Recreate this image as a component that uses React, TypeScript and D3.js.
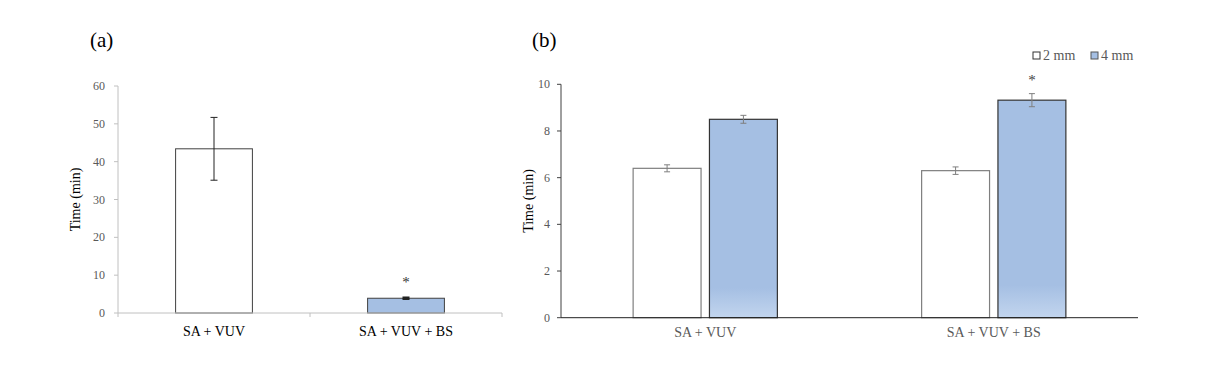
import React from "react";
import * as d3 from "d3";

// panel (a)
const catsA = ["SA + VUV", "SA + VUV + BS"];
const timeA = [43.4, 3.9];
const errA = [8.3, 0.2];
const sigA = [false, true];
const ticksA = [0, 10, 20, 30, 40, 50, 60];

// panel (b)
const catsB = ["SA + VUV", "SA + VUV + BS"];
const seriesB = ["2 mm", "4 mm"];
const time2mm = [6.4, 6.3];
const time4mm = [8.5, 9.32];
const err2mm = [0.15, 0.16];
const err4mm = [0.17, 0.28];
const sig4mm = [false, true];
const ticksB = [0, 2, 4, 6, 8, 10];

const W = 1222;
const H = 369;
const FONT = "Liberation Serif, DejaVu Serif, serif";
const BLUE = "#a5bfe3";
const TICK_COL = "#595959";

function PanelA() {
  const left = 118, right = 502, top = 86, bottom = 313;
  const x = d3.scaleBand().domain(catsA).range([left, right]);
  const y = d3.scaleLinear().domain([0, 60]).range([bottom, top]);
  const bw = x.bandwidth();
  const barW = bw * 0.4;

  return (
    <g>
      <text x={90} y={47} fontSize={21}>(a)</text>
      {/* y axis */}
      <line x1={left} x2={left} y1={top} y2={bottom} stroke="#c0c0c0" />
      {ticksA.map((t) => (
        <g key={t}>
          <line x1={left - 4} x2={left} y1={y(t)} y2={y(t)} stroke="#c0c0c0" />
          <text x={left - 13} y={y(t) + 4} textAnchor="end" fontSize={12} fill={TICK_COL}>
            {t}
          </text>
        </g>
      ))}
      <text
        transform={`translate(80,${(top + bottom) / 2}) rotate(-90)`}
        textAnchor="middle"
        fontSize={14}
      >
        Time (min)
      </text>
      {/* bars */}
      {catsA.map((c, i) => {
        const cx = (x(c) as number) + bw / 2;
        return (
          <g key={c}>
            <rect
              x={cx - barW / 2}
              y={y(timeA[i])}
              width={barW}
              height={y(0) - y(timeA[i])}
              fill={i === 0 ? "#ffffff" : BLUE}
              stroke="#404040"
              strokeWidth={1}
            />
            <line x1={cx} x2={cx} y1={y(timeA[i] + errA[i])} y2={y(timeA[i] - errA[i])} stroke="#222" />
            <line x1={cx - 3.5} x2={cx + 3.5} y1={y(timeA[i] + errA[i])} y2={y(timeA[i] + errA[i])} stroke="#222" strokeWidth={i === 1 ? 2 : 1} />
            <line x1={cx - 3.5} x2={cx + 3.5} y1={y(timeA[i] - errA[i])} y2={y(timeA[i] - errA[i])} stroke="#222" strokeWidth={i === 1 ? 2 : 1} />
            {sigA[i] && (
              <text x={cx} y={y(timeA[i] + errA[i]) - 10} textAnchor="middle" fontSize={15} fill="#333">
                *
              </text>
            )}
            <text x={cx} y={336} textAnchor="middle" fontSize={14}>
              {c}
            </text>
          </g>
        );
      })}
      {/* x axis */}
      <line x1={left} x2={right} y1={bottom} y2={bottom} stroke="#c0c0c0" />
      {[...catsA.map((c) => x(c) as number), right].map((v, i) => (
        <line key={i} x1={v} x2={v} y1={bottom} y2={bottom + 4} stroke="#c0c0c0" />
      ))}
    </g>
  );
}

function PanelB() {
  const left = 561, right = 1138, top = 84.3, bottom = 317.7;
  const x = d3.scaleBand().domain(catsB).range([left, right]);
  const y = d3.scaleLinear().domain([0, 10]).range([bottom, top]);
  const bw = x.bandwidth();
  const inner = d3.scaleBand().domain(seriesB).range([bw * 0.25, bw * 0.75]).paddingInner(0.11);
  const barW = inner.bandwidth();
  const vals = [time2mm, time4mm];
  const errs = [err2mm, err4mm];
  const sigs = [catsB.map(() => false), sig4mm];

  return (
    <g>
      <defs>
        <linearGradient id="blueGrad" x1="0" x2="0" y1="0" y2="1">
          <stop offset="0.85" stopColor={BLUE} />
          <stop offset="1" stopColor="#c2d5ee" />
        </linearGradient>
      </defs>
      <text x={532} y={47} fontSize={21}>(b)</text>
      {/* y axis */}
      <line x1={left} x2={left} y1={top} y2={bottom} stroke="#404040" />
      {ticksB.map((t) => (
        <g key={t}>
          <line x1={left - 4} x2={left} y1={y(t)} y2={y(t)} stroke="#404040" />
          <text x={left - 11} y={y(t) + 4} textAnchor="end" fontSize={12} fill={TICK_COL}>
            {t}
          </text>
        </g>
      ))}
      <text
        transform={`translate(533,${(top + bottom) / 2}) rotate(-90)`}
        textAnchor="middle"
        fontSize={14}
      >
        Time (min)
      </text>
      {/* bars */}
      {catsB.map((c, i) => (
        <g key={c}>
          {seriesB.map((s, k) => {
            const bx = (x(c) as number) + (inner(s) as number);
            const cx = bx + barW / 2;
            const v = vals[k][i];
            const e = errs[k][i];
            return (
              <g key={s}>
                <rect
                  x={bx}
                  y={y(v)}
                  width={barW}
                  height={y(0) - y(v)}
                  fill={k === 0 ? "#ffffff" : "url(#blueGrad)"}
                  stroke={k === 0 ? "#7f7f7f" : "#333"}
                  strokeWidth={1.2}
                />
                <line x1={cx} x2={cx} y1={y(v + e)} y2={y(v - e)} stroke="#7f7f7f" />
                <line x1={cx - 3} x2={cx + 3} y1={y(v + e)} y2={y(v + e)} stroke="#7f7f7f" />
                <line x1={cx - 3} x2={cx + 3} y1={y(v - e)} y2={y(v - e)} stroke="#7f7f7f" />
                {sigs[k][i] && (
                  <text x={cx} y={y(v + e) - 9} textAnchor="middle" fontSize={15} fill="#404040">
                    *
                  </text>
                )}
              </g>
            );
          })}
          <text x={(x(c) as number) + bw / 2} y={337} textAnchor="middle" fontSize={14} fill={TICK_COL}>
            {c}
          </text>
        </g>
      ))}
      {/* x axis */}
      <line x1={left} x2={right} y1={bottom} y2={bottom} stroke="#222" />
      {/* legend */}
      {seriesB.map((s, k) => {
        const lx = k === 0 ? 1033 : 1091;
        return (
          <g key={s}>
            <rect x={lx} y={52} width={7} height={7} fill={k === 0 ? "#fff" : BLUE} stroke={k === 0 ? "#333" : "#555"} />
            <text x={lx + 10} y={60} fontSize={14} fill={TICK_COL}>
              {s}
            </text>
          </g>
        );
      })}
    </g>
  );
}

export default function App() {
  return (
    <svg
      width={W}
      height={H}
      style={{ position: "absolute", left: 0, top: 0, background: "#fff", fontFamily: FONT }}
    >
      <rect width={W} height={H} fill="#fff" />
      <PanelA />
      <PanelB />
    </svg>
  );
}
